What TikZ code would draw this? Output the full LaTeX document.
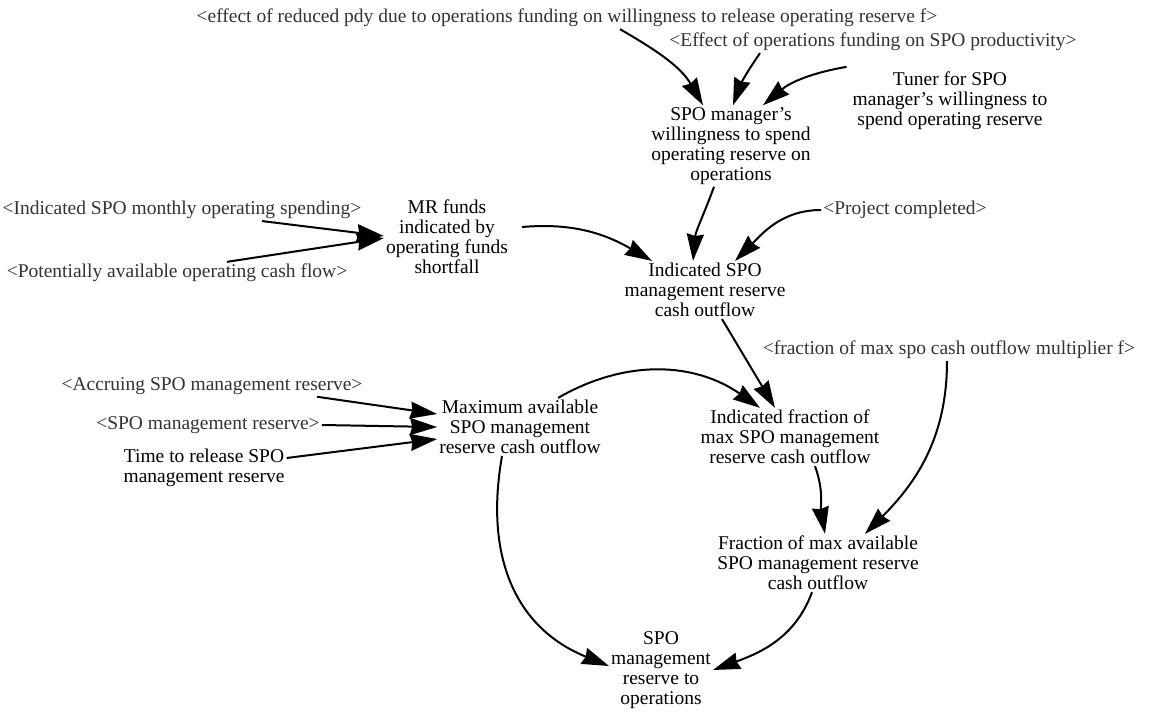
\documentclass[tikz,border=0pt]{standalone}
\usepackage{fontspec}
\setmainfont{Liberation Serif}
\usetikzlibrary{arrows.meta}
\tikzset{
  var/.style={align=center,inner sep=2pt,font=\fontsize{19.5pt}{20pt}\selectfont},
  shad/.style={inner sep=2pt,text=black!80,font=\fontsize{19.5pt}{20pt}\selectfont},
  link/.style={-{Stealth[length=27pt,width=17pt,inset=2pt]},line width=2pt},
}

\begin{document}
\begin{tikzpicture}[x=1pt,y=1pt]
  \useasboundingbox (0,0) rectangle (1159,-715);
  % shadow variables and constants
  \node[shad] (effpdy) at (567,-18) {<effect of reduced pdy due to operations funding on willingness to release operating reserve f>};
  \node[shad] (effprod) at (873,-42) {<Effect of operations funding on SPO productivity>};
  \node[var] (tuner) at (950,-101) {Tuner for SPO\\manager's willingness to\\spend operating reserve};
  \node[shad] (imo) at (182,-210) {<Indicated SPO monthly operating spending>};
  \node[shad] (pot) at (177,-273) {<Potentially available operating cash flow>};
  \node[shad] (proj) at (905,-210) {<Project completed>};
  \node[shad] (fmult) at (949,-350) {<fraction of max spo cash outflow multiplier f>};
  \node[shad] (accr) at (212,-386) {<Accruing SPO management reserve>};
  \node[shad] (smr) at (208,-425) {<SPO management reserve>};
  \node[var] (trel) at (204,-468) {Time to release SPO\\management reserve};
  % auxiliaries
  \node[var] (will) at (731,-146) {SPO manager's\\willingness to spend\\operating reserve on\\operations};
  \node[var] (mrf) at (447,-237) {MR funds\\indicated by\\operating funds\\shortfall};
  \node[var] (isr) at (705,-290) {Indicated SPO\\management reserve\\cash outflow};
  \node[var] (maxa) at (520,-427) {Maximum available\\SPO management\\reserve cash outflow};
  \node[var] (ifr) at (790,-437) {Indicated fraction of\\max SPO management\\reserve cash outflow};
  \node[var] (fmax) at (818,-563) {Fraction of max available\\SPO management reserve\\cash outflow};
  \node[var] (spo) at (661,-670) {SPO\\management\\reserve to\\operations};

  % links
  \draw[link] ([xshift=53pt]effpdy.south) to[out=-30,in=120] ([xshift=-28pt]will.north);
  \draw[link] ([xshift=-113pt]effprod.south) to[out=-125,in=70] ([xshift=2pt]will.north);
  \draw[link] ([xshift=-4pt,yshift=3pt]tuner.north west) to[out=190,in=40] ([xshift=32pt]will.north);
  \draw[link] ([xshift=-17pt]will.south) to[out=-110,in=85] ([xshift=-12pt]isr.north);
  \draw[link] ([xshift=12pt,yshift=10pt]mrf.east) to[out=5,in=150] ([xshift=-53pt]isr.north);
  \draw[link] (proj.west) to[out=180,in=45] ([xshift=30pt]isr.north);
  \draw[link] ([xshift=80pt]imo.south) -- ([yshift=1pt]mrf.west);
  \draw[link] ([xshift=50pt]pot.north) -- ([yshift=-1pt]mrf.west);
  \draw[link] ([xshift=17pt]isr.south) -- ([xshift=-15pt]ifr.north);
  \draw[link] ([xshift=38pt]maxa.north) to[out=30,in=145] ([xshift=-30pt]ifr.north);
  \draw[link] ([xshift=25pt]ifr.south) to[out=-70,in=100] ([xshift=7pt]fmax.north);
  \draw[link] ([xshift=-2pt]fmult.south) to[out=-90,in=45] ([xshift=47pt]fmax.north);
  \draw[link] ([xshift=105pt]accr.south) -- ([yshift=13pt]maxa.west);
  \draw[link] (smr.east) -- (maxa.west);
  \draw[link] ([yshift=10pt]trel.east) -- ([yshift=-12pt]maxa.west);
  \draw[link] ([xshift=-18pt]maxa.south) to[out=-100,in=158,looseness=1.1] ([yshift=4pt]spo.west);
  \draw[link] ([xshift=-6pt]fmax.south) to[out=-110,in=20] (spo.east);
\end{tikzpicture}
\end{document}
